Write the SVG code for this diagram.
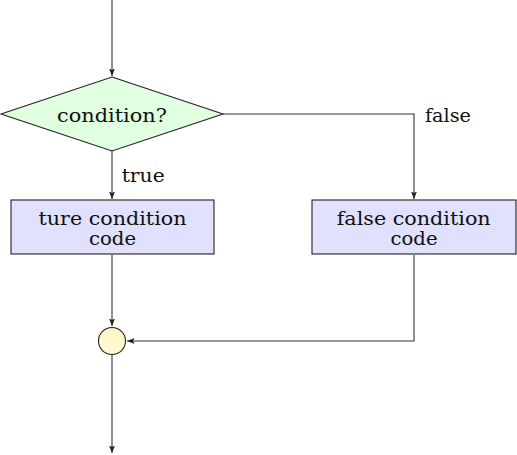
<svg xmlns="http://www.w3.org/2000/svg" width="517" height="455" viewBox="0 0 517 455">
<defs>
<style>
.n{stroke:#222;stroke-width:1.1}
.c{fill:none;stroke:#333;stroke-width:1.1}
.t{font-family:'DejaVu Serif','Liberation Serif',serif;font-size:18px;fill:#111}
.m{text-anchor:middle}
</style>
<marker id="a" viewBox="0 0 10 8" refX="10" refY="4" markerWidth="7.5" markerHeight="6" markerUnits="userSpaceOnUse" orient="auto">
<path d="M0,0 L10,4 L0,8 L2,4 Z" fill="#222"/>
</marker>
</defs>
<rect width="517" height="455" fill="#fff"/>
<g id="connectors">
<path class="c" d="M112,0 V76" marker-end="url(#a)"/>
<path class="c" d="M112,151 V199" marker-end="url(#a)"/>
<path class="c" d="M223,114 H414 V199" marker-end="url(#a)"/>
<path class="c" d="M112,255 V326" marker-end="url(#a)"/>
<path class="c" d="M414,255 V341 H127" marker-end="url(#a)"/>
<path class="c" d="M112,355 V453" marker-end="url(#a)"/>
<text class="t" x="121.7" y="182" textLength="43" lengthAdjust="spacingAndGlyphs">true</text>
<text class="t" x="425" y="121.7" textLength="46" lengthAdjust="spacingAndGlyphs">false</text>
</g>
<g id="decision">
<polygon class="n" points="112,77 223,114 112,151 1,114" fill="#e0ffe0"/>
<text class="t m" x="112" y="121.7" textLength="110" lengthAdjust="spacingAndGlyphs">condition?</text>
</g>
<g id="true-code">
<rect class="n" x="11" y="200" width="203" height="54" fill="#e0e0ff"/>
<text class="t m" x="112.5" y="225" textLength="148" lengthAdjust="spacingAndGlyphs">ture condition</text>
<text class="t m" x="112.5" y="245" textLength="47" lengthAdjust="spacingAndGlyphs">code</text>
</g>
<g id="false-code">
<rect class="n" x="312" y="200" width="204" height="54" fill="#e0e0ff"/>
<text class="t m" x="413.7" y="225" textLength="154" lengthAdjust="spacingAndGlyphs">false condition</text>
<text class="t m" x="414" y="245" textLength="47" lengthAdjust="spacingAndGlyphs">code</text>
</g>
<g id="join">
<circle class="n" cx="112" cy="341" r="13.5" fill="#fff8cc"/>
</g>
</svg>
